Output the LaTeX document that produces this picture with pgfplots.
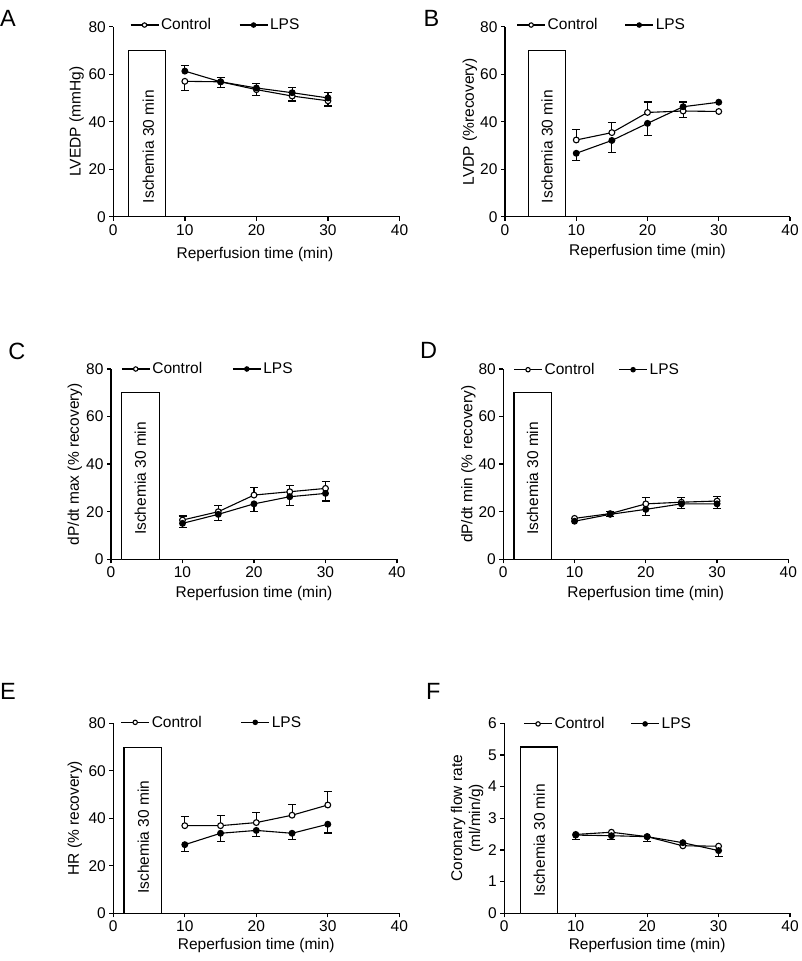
\documentclass[border=0pt]{standalone}
\usepackage{fontspec}
\setmainfont{Liberation Sans}
\usepackage{pgfplots}
\pgfplotsset{compat=1.18}

\newcommand{\fs}{\fontsize{15.5}{18}\selectfont}
\pgfplotsset{
 panel/.style={
  scale only axis,
  axis lines=left, axis line style={-, line width=1.3pt},
  xmin=0, xmax=40, xtick={0,10,20,30,40},
  ymin=0, ymax=80, ytick={0,20,40,60,80},
  tick align=outside, major tick length=4pt, tick style={line width=1.3pt, black},
  every tick label/.append style={font=\fs},
  label style={font=\fs},
  /pgf/number format/assume math mode=true,
  xlabel={Reperfusion time (min)},
  clip=false,
  legend columns=2,
  legend cell align=left,
  legend style={draw=none, fill=none, anchor=west, font=\fs, inner sep=0pt, row sep=0pt},
  legend image code/.code={\draw[mark repeat=2,mark phase=2, mark size=2.2pt] plot coordinates {(0pt,0pt)(14pt,0pt)(28pt,0pt)};},
 },
 ctrl/.style={black, line width=1.1pt, mark=*, mark size=2.9pt, mark options={fill=white, line width=1.1pt}},
 lps/.style={black, line width=1.1pt, mark=*, mark size=2.9pt, mark options={fill=black}},
 ebar/.style={forget plot, draw=none, mark=none,
   error bars/.cd, y dir=#1, y explicit,
   error bar style={draw=black, line width=1.1pt},
   error mark options={draw=black, rotate=90, mark size=4pt, line width=1.1pt}},
 isch/.style={forget plot, black, line width=1.1pt, fill=white, mark=none},
}

\begin{document}
\begin{tikzpicture}
\useasboundingbox (0,0) rectangle (802pt,961pt);

% ---------------- A ----------------
\begin{axis}[panel, at={(113.3pt,744.3pt)}, anchor=south west, width=286.2pt, height=190pt,
  ylabel={LVEDP (mmHg)},
  ylabel style={at={(axis description cs:-0.128,0.5)}, anchor=center},
  xlabel style={at={(axis description cs:0.495,-0.2)}, anchor=center},
  legend style={at={(axis cs:2.3,80.7)}},
  /tikz/every even column/.append style={column sep=26pt}]
\addplot[isch] coordinates {(2.1,0) (2.1,70) (7.3,70) (7.3,0) (2.1,0)};
\node[rotate=90, font=\fs] at (axis cs:4.9,29.5) {Ischemia 30 min};
\addplot[ebar=plus] coordinates {(10,61.3) +- (0,2.3) (15,56.8) +- (0,1.9) (20,54.2) +- (0,1.9) (25,52.2) +- (0,2.3) (30,50.0) +- (0,2.3)};
\addplot[ebar=minus] coordinates {(10,57.0) +- (0,4.0) (15,56.8) +- (0,2.3) (20,53.5) +- (0,2.3) (25,50.8) +- (0,2.1) (30,48.8) +- (0,2.2)};
\addplot[ctrl] coordinates {(10,57.0) (15,56.8) (20,53.5) (25,50.8) (30,48.8)};
\addplot[lps] coordinates {(10,61.3) (15,56.8) (20,54.2) (25,52.2) (30,50.0)};
\legend{Control, LPS}
\end{axis}

% ---------------- B ----------------
\begin{axis}[panel, at={(505pt,744.3pt)}, anchor=south west, width=285pt, height=190pt,
  ylabel={LVDP (\%recovery)},
  ylabel style={at={(axis description cs:-0.123,0.5)}, anchor=center},
  xlabel style={at={(axis description cs:0.5,-0.184)}, anchor=center},
  legend style={at={(axis cs:1.6,80.7)}},
  /tikz/every even column/.append style={column sep=25pt}]
\addplot[isch] coordinates {(3.3,0) (3.3,70) (8.5,70) (8.5,0) (3.3,0)};
\addplot[ebar=plus] coordinates {(10,32.3) +- (0,4.4) (15,35.4) +- (0,4.1) (20,43.9) +- (0,4.4) (25,46.3) +- (0,2.0)};
\addplot[ebar=minus] coordinates {(10,26.7) +- (0,3.0) (15,32.1) +- (0,5.0) (20,39.3) +- (0,5.1) (25,44.5) +- (0,2.9)};
\node[rotate=90, font=\fs] at (axis cs:5.9,29.5) {Ischemia 30 min};
\addplot[ctrl] coordinates {(10,32.3) (15,35.4) (20,43.9) (25,44.5) (30,44.3)};
\addplot[lps] coordinates {(10,26.7) (15,32.1) (20,39.3) (25,46.3) (30,48.2)};
\legend{Control, LPS}
\end{axis}

% ---------------- C ----------------
\begin{axis}[panel, at={(111pt,401.7pt)}, anchor=south west, width=286pt, height=190.3pt,
  ylabel={dP/dt max (\% recovery)},
  ylabel style={at={(axis description cs:-0.126,0.5)}, anchor=center},
  xlabel style={at={(axis description cs:0.5,-0.179)}, anchor=center},
  legend style={at={(axis cs:1.4,80)}},
  /tikz/every even column/.append style={column sep=28pt}]
\addplot[isch] coordinates {(1.5,0) (1.5,70) (6.8,70) (6.8,0) (1.5,0)};
\node[rotate=90, font=\fs] at (axis cs:4.1,34) {Ischemia 30 min};
\addplot[ebar=plus] coordinates {(10,16.5) +- (0,1.7) (15,20.0) +- (0,2.8) (20,27.0) +- (0,3.1) (25,28.4) +- (0,2.8) (30,29.8) +- (0,2.8)};
\addplot[ebar=minus] coordinates {(10,15.1) +- (0,1.7) (15,18.9) +- (0,2.6) (20,23.3) +- (0,3.3) (25,26.3) +- (0,3.5) (30,27.7) +- (0,3.2)};
\addplot[ctrl] coordinates {(10,16.5) (15,20.0) (20,27.0) (25,28.4) (30,29.8)};
\addplot[lps] coordinates {(10,15.1) (15,18.9) (20,23.3) (25,26.3) (30,27.7)};
\legend{Control, LPS}
\end{axis}

% ---------------- D ----------------
\begin{axis}[panel, at={(503.3pt,401.7pt)}, anchor=south west, width=285pt, height=190.3pt,
  ylabel={dP/dt min (\% recovery)},
  ylabel style={at={(axis description cs:-0.123,0.5)}, anchor=center},
  xlabel style={at={(axis description cs:0.5,-0.179)}, anchor=center},
  legend style={at={(axis cs:1.4,79.7)}},
  /tikz/every even column/.append style={column sep=22pt}]
\addplot[isch] coordinates {(1.5,0) (1.5,70) (6.8,70) (6.8,0) (1.5,0)};
\node[rotate=90, font=\fs] at (axis cs:4.1,34) {Ischemia 30 min};
\addplot[ebar=plus] coordinates {(15,19.2) +- (0,1.0) (20,23.3) +- (0,2.6) (25,24.0) +- (0,1.9) (30,24.5) +- (0,1.8)};
\addplot[ebar=minus] coordinates {(15,18.9) +- (0,1.0) (20,21.0) +- (0,2.4) (25,23.3) +- (0,1.9) (30,23.3) +- (0,1.9)};
\addplot[ctrl] coordinates {(10,17.2) (15,19.2) (20,23.3) (25,24.0) (30,24.5)};
\addplot[lps] coordinates {(10,16.0) (15,18.9) (20,21.0) (25,23.3) (30,23.3)};
\legend{Control, LPS}
\end{axis}

% ---------------- E ----------------
\begin{axis}[panel, at={(113.3pt,47.7pt)}, anchor=south west, width=286pt, height=190pt,
  ylabel={HR (\% recovery)},
  ylabel style={at={(axis description cs:-0.134,0.5)}, anchor=center},
  xlabel style={at={(axis description cs:0.5,-0.167)}, anchor=center},
  legend style={at={(axis cs:1.0,80.4)}},
  /tikz/every even column/.append style={column sep=37pt}]
\addplot[isch] coordinates {(1.5,0) (1.5,70) (6.7,70) (6.7,0) (1.5,0)};
\node[rotate=90, font=\fs] at (axis cs:4.2,32) {Ischemia 30 min};
\addplot[ebar=plus] coordinates {(10,36.9) +- (0,3.9) (15,36.9) +- (0,4.2) (20,38.2) +- (0,4.2) (25,41.3) +- (0,4.6) (30,45.6) +- (0,5.6)};
\addplot[ebar=minus] coordinates {(10,28.9) +- (0,2.7) (15,33.7) +- (0,3.5) (20,34.9) +- (0,2.6) (25,33.7) +- (0,2.8) (30,37.5) +- (0,3.7)};
\addplot[ctrl] coordinates {(10,36.9) (15,36.9) (20,38.2) (25,41.3) (30,45.6)};
\addplot[lps] coordinates {(10,28.9) (15,33.7) (20,34.9) (25,33.7) (30,37.5)};
\legend{Control, LPS}
\end{axis}

% ---------------- F ----------------
\begin{axis}[panel, at={(504.3pt,47.7pt)}, anchor=south west, width=285.7pt, height=190pt,
  ymax=6, ytick={0,1,2,3,4,5,6},
  ylabel={Coronary flow rate\\(ml/min/g)},
  ylabel style={at={(axis description cs:-0.13,0.5)}, anchor=center, align=center},
  xlabel style={at={(axis description cs:0.5,-0.167)}, anchor=center},
  legend style={at={(axis cs:2.66,5.98)}},
  /tikz/every even column/.append style={column sep=24pt}]
\addplot[isch] coordinates {(2.3,0) (2.3,5.25) (7.5,5.25) (7.5,0) (2.3,0)};
\node[rotate=90, font=\fs] at (axis cs:4.9,2.3) {Ischemia 30 min};
\addplot[ebar=minus] coordinates {(10,2.47) +- (0,0.15) (15,2.45) +- (0,0.13) (20,2.42) +- (0,0.16) (25,2.23) +- (0,0.10) (30,1.98) +- (0,0.19)};
\addplot[ctrl] coordinates {(10,2.49) (15,2.56) (20,2.42) (25,2.13) (30,2.12)};
\addplot[lps] coordinates {(10,2.47) (15,2.45) (20,2.42) (25,2.23) (30,1.98)};
\legend{Control, LPS}
\end{axis}

% panel letters
\node[anchor=base west, font=\fontsize{23.5}{26}\selectfont, inner sep=0pt] at (0pt,934.3pt) {A};
\node[anchor=base west, font=\fontsize{23.5}{26}\selectfont, inner sep=0pt] at (423.3pt,934.3pt) {B};
\node[anchor=base west, font=\fontsize{23.5}{26}\selectfont, inner sep=0pt] at (8.3pt,601pt) {C};
\node[anchor=base west, font=\fontsize{23.5}{26}\selectfont, inner sep=0pt] at (420pt,602.7pt) {D};
\node[anchor=base west, font=\fontsize{23.5}{26}\selectfont, inner sep=0pt] at (0pt,261pt) {E};
\node[anchor=base west, font=\fontsize{23.5}{26}\selectfont, inner sep=0pt] at (426pt,261pt) {F};
\end{tikzpicture}
\end{document}
